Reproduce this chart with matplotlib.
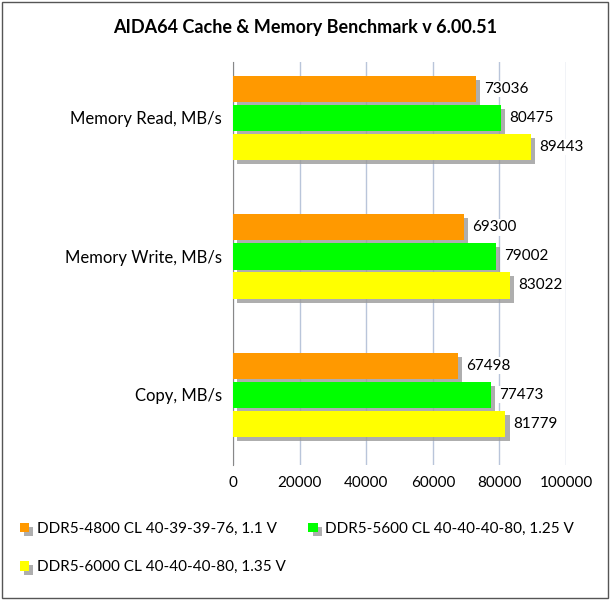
import numpy as np
import matplotlib.pyplot as plt
import matplotlib.patheffects as pe
from matplotlib.patches import Rectangle

plt.rcParams['font.family'] = ['Lato', 'DejaVu Sans']

categories = ["Memory Read, MB/s", "Memory Write, MB/s", "Copy, MB/s"]
series = ["DDR5-4800 CL 40-39-39-76, 1.1 V",
          "DDR5-5600 CL 40-40-40-80, 1.25 V",
          "DDR5-6000 CL 40-40-40-80, 1.35 V"]
values = [
    [73036, 69300, 67498],
    [80475, 79002, 77473],
    [89443, 83022, 81779],
]
colors = ["#FF9900", "#00FF00", "#FFFF00"]

fig = plt.figure(figsize=(6.1, 6.0), dpi=100)
fig.patches.append(Rectangle((0.003, 0.003), 0.994, 0.994, transform=fig.transFigure,
                             fill=False, edgecolor="#555555", linewidth=1))
ax = fig.add_axes([0.382, 0.225, 0.546, 0.672])

step = 0.21
height = 0.19
y = np.arange(len(categories))
handles = []
for i, (name, vals, c) in enumerate(zip(series, values, colors)):
    ypos = y + (i - 1) * step
    bars = ax.barh(ypos, vals, height=height, color=c, label=name, zorder=3)
    for b in bars:
        b.set_path_effects([pe.SimplePatchShadow(offset=(3, -3), shadow_rgbFace="#9a9a9a", alpha=0.8), pe.Normal()])
    handles.append(bars)
    for yy, v in zip(ypos, vals):
        ax.text(v + 2500, yy, str(v), va="center", ha="left", fontsize=11, zorder=4,
                bbox=dict(facecolor="white", edgecolor="none", pad=1))

ax.set_xlim(0, 100000)
ax.set_ylim(2 + 0.507, -0.406)
ax.set_xticks(np.arange(0, 100001, 20000))
ax.set_yticks(y)
ax.set_yticklabels(categories, fontsize=12)
ax.tick_params(axis="x", labelsize=11, length=0, pad=8)
ax.tick_params(axis="y", length=0, pad=8)
ax.grid(axis="x", color="#B9C5DA", linewidth=1, zorder=0)
for s in ["top", "right", "bottom"]:
    ax.spines[s].set_visible(False)
ax.spines["left"].set_color("#888888")

fig.text(0.5, 0.955, "AIDA64 Cache & Memory Benchmark v 6.00.51", ha="center",
         va="center", fontsize=13, fontweight="bold")

fig.legend([handles[0], handles[2], handles[1]], [series[0], series[2], series[1]],
           ncol=2, loc="lower left", bbox_to_anchor=(0.01, 0.02), frameon=False,
           fontsize=11, handlelength=0.6, handleheight=0.6, handletextpad=0.5,
           columnspacing=1.5, labelspacing=1.6)

fig.savefig("out.png", dpi=100)
